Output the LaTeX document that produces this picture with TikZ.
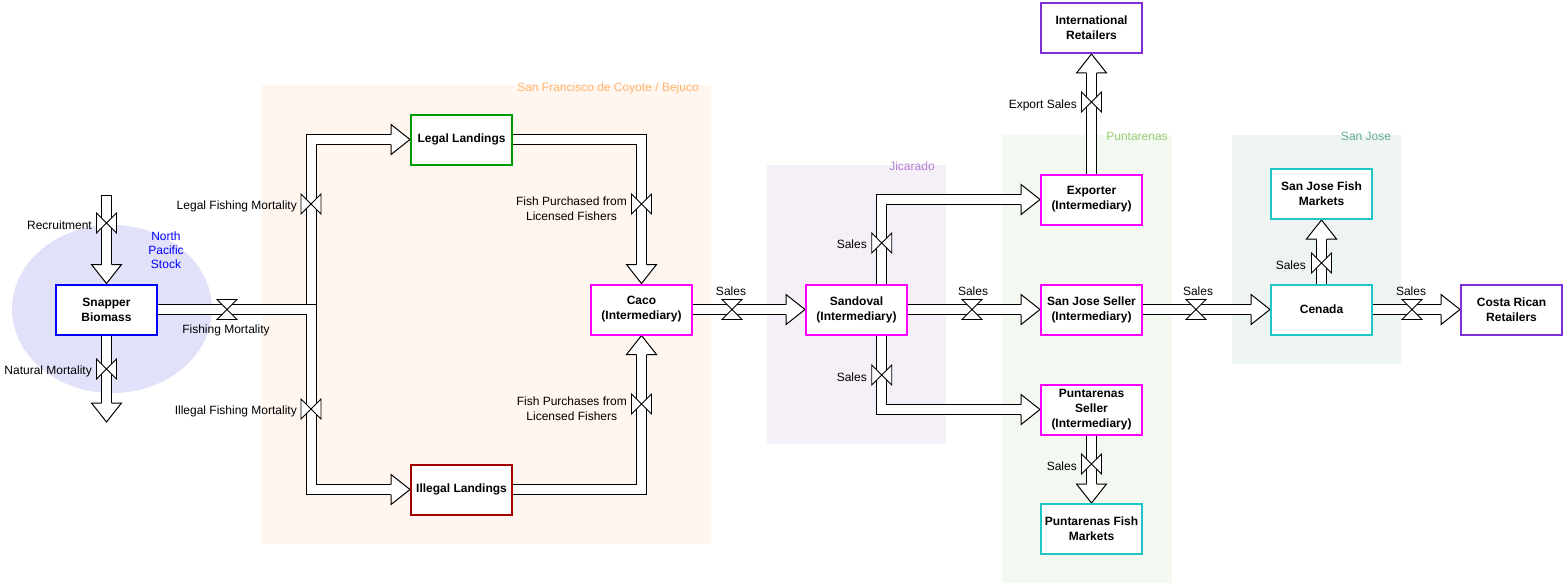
\documentclass[tikz,border=0pt]{standalone}
\usepackage{fontspec}
\setmainfont{Liberation Sans}
\pgfdeclarelayer{bg}
\pgfdeclarelayer{pipes}
\pgfsetlayers{bg,pipes,main}
\definecolor{cBlue}{HTML}{0000FF}
\definecolor{cGreen}{HTML}{009900}
\definecolor{cRed}{HTML}{A20000}
\definecolor{cMag}{HTML}{FF00FF}
\definecolor{cPurp}{HTML}{7E2FD8}
\definecolor{cTeal}{HTML}{20C5C5}
\definecolor{gOrange}{HTML}{FFF6F0}
\definecolor{tOrange}{HTML}{FFB570}
\definecolor{gJic}{HTML}{F5F0F7}
\definecolor{tJic}{HTML}{B57FD3}
\definecolor{gPun}{HTML}{F3F8F0}
\definecolor{tPun}{HTML}{97D077}
\definecolor{gSJ}{HTML}{EEF4F2}
\definecolor{tSJ}{HTML}{67AB9F}
\definecolor{gStock}{HTML}{E1E1F9}
\tikzset{
  box/.style={draw, line width=2pt, fill=white, minimum width=101pt, minimum height=50pt,
    inner sep=0pt, align=center, font=\fontsize{12}{15}\selectfont\bfseries},
  pipe/.style={draw=black, line width=1pt, double=white, double distance=9pt},
  head/.style={fill=white, draw=black, line width=1pt, line join=miter},
  valve/.style={fill=white, draw=black, line width=0.8pt},
  lbl/.style={font=\fontsize{12}{15}\selectfont, inner sep=0pt, align=center, yshift=-1.5pt},
  grplbl/.style={font=\fontsize{12}{15}\selectfont, inner sep=0pt, yshift=-1pt}
}
\newcommand\headR[1]{\filldraw[head] ([shift={(-19,-5)}]#1) -- ++(0,-10) -- (#1) -- ++(-19,15) -- ++(0,-10);}
\newcommand\headU[1]{\filldraw[head] ([shift={(-5,19)}]#1) -- ++(-10,0) -- (#1) -- ++(15,19) -- ++(-10,0);}
\newcommand\headD[1]{\filldraw[head] ([shift={(-5,-19)}]#1) -- ++(-10,0) -- (#1) -- ++(15,-19) -- ++(-10,0);}
\newcommand\valveH[1]{\filldraw[valve] ([shift={(-10,-10)}]#1) -- ++(20,0) -- ++(-20,20) -- ++(20,0) -- cycle;}
\newcommand\valveV[1]{\filldraw[valve] ([shift={(-10,-10)}]#1) -- ++(0,20) -- ++(20,-20) -- ++(0,20) -- cycle;}
\begin{document}
\begin{tikzpicture}[x=1pt,y=-1pt]
\useasboundingbox (0,0) rectangle (1564,586);

% group backgrounds
\begin{pgfonlayer}{bg}
  \fill[gStock] (112,309) ellipse [x radius=100, y radius=84];
  \fill[gOrange] (262,85) rectangle (711,544);
  \fill[gJic] (767,165) rectangle (946,444);
  \fill[gPun] (1002,135) rectangle (1172,583);
  \fill[gSJ] (1232,135) rectangle (1401,364);
\end{pgfonlayer}
\node[grplbl, text=tOrange] (gSF) at (608,87) {San Francisco de Coyote / Bejuco};
\node[grplbl, text=tJic] (gJ) at (912,165) {Jicarado};
\node[grplbl, text=tPun] (gP) at (1137,135) {Puntarenas};
\node[grplbl, text=tSJ] (gS) at (1366,135) {San Jose};
\node[lbl, text=cBlue, font=\fontsize{12}{14}\selectfont] (stock) at (166,249) {North\\Pacific\\Stock};

% boxes
\node[box, draw=cBlue] (snap) at (106.5,309.5) {Snapper\\Biomass};
\node[box, draw=cGreen] (legal) at (461.5,139.5) {Legal Landings};
\node[box, draw=cRed] (illegal) at (461.5,489.5) {Illegal Landings};
\node[box, draw=cMag] (caco) at (641.5,309.5) {Caco\\(Intermediary)};
\node[box, draw=cMag] (sandoval) at (856.5,309.5) {Sandoval\\(Intermediary)};
\node[box, draw=cMag] (exporter) at (1091.5,199.5) {Exporter\\(Intermediary)};
\node[box, draw=cPurp] (intl) at (1091.5,28) {International\\Retailers};
\node[box, draw=cMag] (sjseller) at (1091.5,309.5) {San Jose Seller\\(Intermediary)};
\node[box, draw=cMag] (pseller) at (1091.5,409.5) {Puntarenas\\Seller\\(Intermediary)};
\node[box, draw=cTeal] (pfm) at (1091.5,529) {Puntarenas Fish\\Markets};
\node[box, draw=cTeal] (sjfm) at (1321.5,194) {San Jose Fish\\Markets};
\node[box, draw=cTeal] (cenada) at (1321.5,309.5) {Cenada};
\node[box, draw=cPurp] (crr) at (1511.5,309.5) {Costa Rican\\Retailers};

\coordinate (rsrc) at (106.5,195);
\coordinate (nsink) at (106.5,422);
\coordinate (fj) at (311,309.5);
\coordinate (sandN) at ([shift={(25,0)}]sandoval.north);
\coordinate (sandS) at ([shift={(25,0)}]sandoval.south);

\begin{pgfonlayer}{pipes}
  % pipes
  \draw[pipe] (rsrc) -- ([shift={(0,-19)}]snap.north);
  \draw[line width=1pt] ([shift={(-5.5,0)}]rsrc) -- ([shift={(5.5,0)}]rsrc);
  \draw[pipe] (snap.south) -- ([shift={(0,-19)}]nsink);
  \draw[pipe] (snap.east) -- (fj) |- ([shift={(-19,0)}]legal.west);
  \draw[pipe] (snap.east) -- (fj) |- ([shift={(-19,0)}]illegal.west);
  \draw[pipe] (legal.east) -| ([shift={(0,-19)}]caco.north);
  \draw[pipe] (illegal.east) -| ([shift={(0,19)}]caco.south);
  \draw[pipe] (caco.east) -- ([shift={(-19,0)}]sandoval.west);
  \draw[pipe] (sandN) |- ([shift={(-19,0)}]exporter.west);
  \draw[pipe] (sandS) |- ([shift={(-19,0)}]pseller.west);
  \draw[pipe] (sandoval.east) -- ([shift={(-19,0)}]sjseller.west);
  \draw[pipe] (exporter.north) -- ([shift={(0,19)}]intl.south);
  \draw[pipe] (sjseller.east) -- ([shift={(-19,0)}]cenada.west);
  \draw[pipe] (cenada.north) -- ([shift={(0,19)}]sjfm.south);
  \draw[pipe] (cenada.east) -- ([shift={(-19,0)}]crr.west);
  \draw[pipe] (pseller.south) -- ([shift={(0,-19)}]pfm.north);
  % heads
  \headD{snap.north}
  \headD{nsink}
  \headR{legal.west}
  \headR{illegal.west}
  \headD{caco.north}
  \headU{caco.south}
  \headR{sandoval.west}
  \headR{exporter.west}
  \headR{pseller.west}
  \headR{sjseller.west}
  \headU{intl.south}
  \headR{cenada.west}
  \headU{sjfm.south}
  \headR{crr.west}
  \headD{pfm.north}
  % valves
  \valveV{106.5,223}
  \valveV{106.5,369}
  \valveH{227,309.5}
  \valveV{311,204}
  \valveV{311,409}
  \valveV{641.5,204}
  \valveV{641.5,404}
  \valveH{732,309.5}
  \valveV{881.75,243}
  \valveV{881.75,375}
  \valveH{972,309.5}
  \valveV{1091.5,102}
  \valveH{1196,309.5}
  \valveV{1321.5,263}
  \valveH{1412,309.5}
  \valveV{1091.5,464}
\end{pgfonlayer}

% flow labels
\node[lbl, anchor=east] (lRec) at (92,224) {Recruitment};
\node[lbl, anchor=east] (lNat) at (92,370) {Natural Mortality};
\node[lbl] (lFish) at (226,329) {Fishing Mortality};
\node[lbl, anchor=east] (lLFM) at (297,205) {Legal Fishing Mortality};
\node[lbl, anchor=east] (lIFM) at (297,410) {Illegal Fishing Mortality};
\node[lbl, anchor=east] (lFP1) at (627,207.5) {Fish Purchased from\\Licensed Fishers};
\node[lbl, anchor=east] (lFP2) at (627,407.5) {Fish Purchases from\\Licensed Fishers};
\node[lbl] (lS1) at (731,290) {Sales};
\node[lbl, anchor=east] (lS2) at (867,243) {Sales};
\node[lbl, anchor=east] (lS3) at (867,376) {Sales};
\node[lbl] (lS4) at (973,290) {Sales};
\node[lbl, anchor=east] (lExp) at (1077,104) {Export Sales};
\node[lbl] (lS5) at (1198,290) {Sales};
\node[lbl, anchor=east] (lS6) at (1306,264) {Sales};
\node[lbl] (lS7) at (1411,290) {Sales};
\node[lbl, anchor=east] (lS8) at (1077,465) {Sales};
\end{tikzpicture}
\end{document}
